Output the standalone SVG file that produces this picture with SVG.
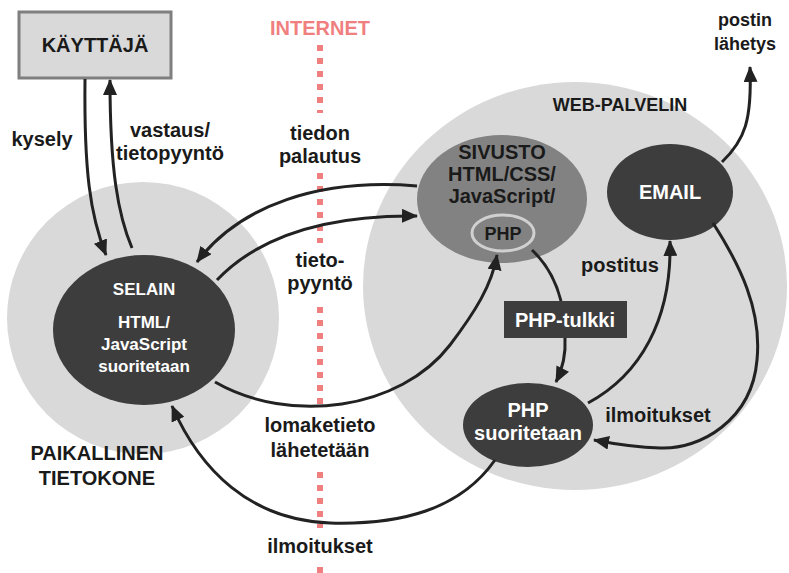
<svg xmlns="http://www.w3.org/2000/svg" width="789" height="573" viewBox="0 0 789 573">
<defs>
<marker id="ah" markerUnits="userSpaceOnUse" markerWidth="16" markerHeight="14" refX="15" refY="7" orient="auto">
<path d="M0,0 L16,7 L0,14 Z" fill="#222"/>
</marker>
<style>
text{font-family:"Liberation Sans",Arial,sans-serif;font-weight:bold;text-anchor:middle;fill:#1a1a1a}
.lbl{font-size:20px;font-weight:bold}
.s17{font-size:17px;font-weight:bold}
.s18{font-size:18px;font-weight:bold}
.net-t{font-size:20px;font-weight:bold;fill:#f07f7f}
.w{fill:#fff}
.dark{fill:#3d3d3d}
.bg{fill:#d9d9d9}
.con{fill:none;stroke:#222;stroke-width:3}
.net{stroke:#f08080;stroke-width:6;stroke-dasharray:6 7}
</style>
</defs>
<rect width="789" height="573" fill="#fff"/>

<g id="paikallinen">
<circle class="bg" cx="143" cy="318" r="136"/>
<text class="lbl" x="97" y="460">PAIKALLINEN</text>
<text class="lbl" x="97" y="485">TIETOKONE</text>
</g>
<g id="webpalvelin">
<ellipse class="bg" cx="575" cy="286" rx="212" ry="204"/>
<text class="s18" x="620" y="111">WEB-PALVELIN</text>
</g>

<g id="internet">
<text class="net-t" x="320" y="35">INTERNET</text>
<line class="net" x1="320" y1="45" x2="320" y2="113"/>
<line class="net" x1="320" y1="173" x2="320" y2="243"/>
<line class="net" x1="320" y1="307" x2="320" y2="405"/>
<line class="net" x1="320" y1="472" x2="320" y2="528"/>
<line class="net" x1="320" y1="567" x2="320" y2="580"/>
</g>

<g id="kayttaja">
<rect x="19" y="12" width="152" height="66" fill="#d9d9d9" stroke="#7f7f7f" stroke-width="3"/>
<text class="lbl" x="95" y="52">KÄYTTÄJÄ</text>
</g>

<g id="selain">
<ellipse class="dark" cx="144" cy="330" rx="91" ry="75"/>
<text class="w s17" x="144" y="295">SELAIN</text>
<text class="w s17" x="144" y="328">HTML/</text>
<text class="w s17" x="144" y="350">JavaScript</text>
<text class="w s17" x="144" y="372">suoritetaan</text>
</g>

<g id="sivusto">
<ellipse cx="502" cy="199" rx="85" ry="64" fill="#828282"/>
<text class="lbl" x="502" y="159">SIVUSTO</text>
<text class="lbl" x="502" y="181">HTML/CSS/</text>
<text class="lbl" x="502" y="203">JavaScript/</text>
</g>
<g id="php">
<ellipse cx="503" cy="233" rx="31" ry="18" fill="#828282" stroke="#d0d0d0" stroke-width="3"/>
<text class="s18" x="503" y="240">PHP</text>
</g>

<g id="email">
<ellipse class="dark" cx="670" cy="192" rx="63" ry="48"/>
<text class="w lbl" x="670" y="199">EMAIL</text>
</g>

<g id="phptulkki">
<rect class="dark" x="504" y="301" width="123" height="37"/>
<text class="w lbl" x="565" y="327">PHP-tulkki</text>
</g>

<g id="phpsuoritetaan">
<ellipse class="dark" cx="528" cy="425" rx="65" ry="42"/>
<text class="w lbl" x="528" y="417">PHP</text>
<text class="w lbl" x="528" y="440">suoritetaan</text>
</g>

<g id="connectors">
<path class="con" d="M85,79 C84,170 90,215 106,255" marker-end="url(#ah)"/>
<path class="con" d="M132,248 C118,215 110,170 110,80" marker-end="url(#ah)"/>
<path class="con" d="M417,186 C320,178 240,205 197,262" marker-end="url(#ah)"/>
<path class="con" d="M217,280 C260,235 330,215 417,216" marker-end="url(#ah)"/>
<path class="con" d="M215,382 C290,425 400,410 450,345 C475,312 492,285 497,255" marker-end="url(#ah)"/>
<path class="con" d="M532,250 C548,265 557,285 561,301"/>
<path class="con" d="M565,338 C566,355 563,368 556,382" marker-end="url(#ah)"/>
<path class="con" d="M588,403 C640,375 672,320 670,241" marker-end="url(#ah)"/>
<path class="con" d="M713,223 C740,265 762,310 757,360 C752,420 700,450 660,448 C630,447 610,443 594,440" marker-end="url(#ah)"/>
<path class="con" d="M495,460 C460,510 400,525 330,523 C250,520 200,470 172,406" marker-end="url(#ah)"/>
<path class="con" d="M722,162 C745,140 752,120 750,67" marker-end="url(#ah)"/>
</g>

<g id="labels">
<text class="lbl" x="42" y="146">kysely</text>
<text class="lbl" x="170" y="137">vastaus/</text>
<text class="lbl" x="170" y="160">tietopyyntö</text>
<text class="lbl" x="320" y="140">tiedon</text>
<text class="lbl" x="320" y="163">palautus</text>
<text class="lbl" x="320" y="267">tieto-</text>
<text class="lbl" x="320" y="290">pyyntö</text>
<text class="lbl" x="320" y="432">lomaketieto</text>
<text class="lbl" x="320" y="457">lähetetään</text>
<text class="lbl" x="320" y="553">ilmoitukset</text>
<text class="s18" x="745" y="26">postin</text>
<text class="s18" x="745" y="50">lähetys</text>
<text class="lbl" x="620" y="272">postitus</text>
<text class="lbl" x="658" y="422">ilmoitukset</text>
</g>
</svg>
